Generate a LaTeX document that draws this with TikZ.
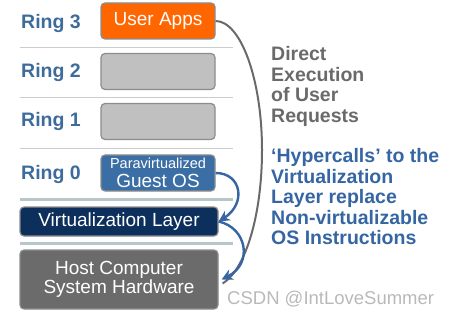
\documentclass[tikz,border=0pt]{standalone}
\usepackage{fontspec}
\setmainfont{Liberation Sans}
\usepackage{xcolor}
\usetikzlibrary{arrows.meta,positioning}
\definecolor{ringblue}{HTML}{3D6C9C}
\definecolor{appsorange}{HTML}{FF6600}
\definecolor{emptygray}{HTML}{C0C0C0}
\definecolor{guestblue}{HTML}{3B6EA5}
\definecolor{virtnavy}{HTML}{0C2F5C}
\definecolor{hwgray}{HTML}{6B6B6B}
\definecolor{boxedge}{HTML}{8C8C8C}
\definecolor{sepcol}{HTML}{B7C7C9}
\definecolor{hyperblue}{HTML}{3565A2}
\definecolor{notegray}{HTML}{6A6A6A}

\begin{document}
\begin{tikzpicture}[x=1pt, y=-1pt,
        ring/.style={anchor=west, inner sep=0pt, text=ringblue, font=\fontsize{19.5}{22}\selectfont\bfseries},
        box/.style={rectangle, rounded corners=4pt, draw=boxedge, line width=1.2pt, minimum width=114pt, minimum height=36pt, inner sep=2pt, text=white, align=center, font=\fontsize{19}{19.5}\selectfont},
        wide/.style={box, minimum width=198pt},
        sep/.style={gray!40, line width=0.8pt},
        sepbold/.style={sepcol, line width=2.5pt},
        call/.style={-{Stealth[length=11pt,width=11pt]}, hyperblue, line width=2.4pt},
        direct/.style={notegray, line width=2pt},
        note/.style={anchor=north west, inner sep=0pt, align=left, font=\fontsize{19.5}{20.5}\selectfont\bfseries}
    ]
        \useasboundingbox (0,0) rectangle (449,315);
        % ring separators
        \foreach \y in {47,97,148} \draw[sep] (20,\y) -- (233,\y);
        \foreach \y in {199.5,243.5} \draw[sepbold] (20,\y) -- (233,\y);
        % rings
        \node[ring] (lbthree) at (21,24) {Ring 3};
        \node[ring] (lbtwo) at (21,73) {Ring 2};
        \node[ring] (lbone) at (21,122) {Ring 1};
        \node[ring] (lbzero) at (21,175) {Ring 0};
        \node[box, fill=appsorange] (apps) at (158,21) {User Apps};
        \node[box, fill=emptygray] (ringtwo) at (158,71.5) {};
        \node[box, fill=emptygray] (ringone) at (158,121.5) {};
        \node[box, fill=guestblue] (guest) at (158,173) {{\fontsize{14.5}{15}\selectfont Paravirtualized}\\Guest OS};
        \node[wide, fill=virtnavy, minimum height=29pt] (virt) at (119,221.5) {Virtualization Layer};
        \node[wide, fill=hwgray, minimum height=59pt] (hw) at (119,279.5) {Host Computer\\System Hardware};
        % calls
        \coordinate (gmid) at (262,150);
        \draw[direct] (apps.east) .. controls +(25,0) and +(0,-71) .. (gmid) .. controls +(0,65) and +(23,-14) .. ([xshift=4pt,yshift=-4pt]hw.east);
        \draw[call] (guest.east) .. controls +(26,0) and +(28,-18) .. (virt.east);
        \draw[call] (virt.east) .. controls +(28,6) and +(32,-16) .. ([xshift=3pt]hw.east);
        % notes
        \node[note, text=notegray] (directnote) at (271,46.5) {Direct\\Execution\\of User\\Requests};
        \node[note, text=hyperblue] (hypernote) at (271,148.5) {‘Hypercalls’ to the\\Virtualization\\Layer replace\\Non-virtualizable\\OS Instructions};
        \node[anchor=west, inner sep=0pt, text=gray!55, font=\fontsize{18.5}{20}\selectfont] (mark) at (227,299) {CSDN @IntLoveSummer};
    \end{tikzpicture}
\end{document}
